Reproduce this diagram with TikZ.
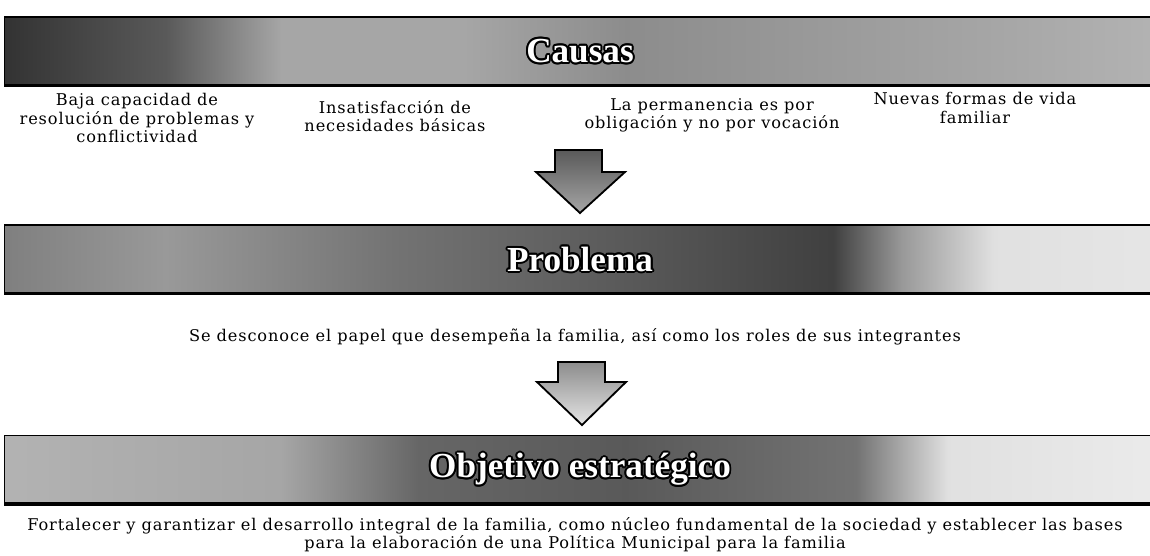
\documentclass[tikz,border=0pt]{standalone}
\usepackage{fontspec}
\setmainfont{DejaVu Serif}[LetterSpace=5.5]
\newfontfamily\titlefont{Liberation Serif}
\usepackage{tikz}
\usetikzlibrary{positioning}

% band shadings (TikZ maps the path onto 25bp--75bp)
\pgfdeclarehorizontalshading{causasShade}{100bp}{color(0bp)=(black!80); color(25bp)=(black!80); color(32bp)=(black!65); color(37bp)=(black!35); color(45bp)=(black!35); color(52bp)=(black!45); color(60bp)=(black!40); color(68bp)=(black!35); color(75bp)=(black!30); color(100bp)=(black!30)}
\pgfdeclarehorizontalshading{problemaShade}{100bp}{color(0bp)=(black!50); color(25bp)=(black!50); color(32bp)=(black!40); color(42bp)=(black!55); color(52bp)=(black!65); color(61bp)=(black!75); color(64bp)=(black!40); color(68bp)=(black!12); color(75bp)=(black!10); color(100bp)=(black!10)}
\pgfdeclarehorizontalshading{objetivoShade}{100bp}{color(0bp)=(black!30); color(25bp)=(black!30); color(37bp)=(black!35); color(43bp)=(black!60); color(52bp)=(black!65); color(62bp)=(black!55); color(66bp)=(black!12); color(75bp)=(black!8); color(100bp)=(black!8)}

\tikzset{
  band/.style={draw=black, line width=0.8pt, minimum width=28.75cm, minimum height=1.7cm, inner sep=0pt},
  bandtitle/.style={font=\titlefont\bfseries\fontsize{25}{25}\selectfont, text=white, inner sep=0pt},
  bodytext/.style={font=\fontsize{11.5}{13}\selectfont, align=center, inner sep=0pt},
  bigarrow/.style={draw=black, line width=1.3pt, line join=miter}
}

\begin{document}
\begin{tikzpicture}[x=0.025cm, y=-0.025cm]
  \useasboundingbox (0,0) rectangle (1150,555);

  % Bands
  \node[band, shading=causasShade] (causas) at (580,51) {};
  \node[band, shading=problemaShade] (problema) at (580,259) {};
  \node[band, shading=objetivoShade] (objetivo) at (580,469.5) {};
  \foreach \b in {causas, problema, objetivo}
    \draw[line width=2.5pt] (\b.south west) -- (\b.south east);

  % Titles with dark outline
  \foreach \b/\t in {causas/Causas, problema/Problema, objetivo/Objetivo estratégico} {
    \foreach \a in {0,30,...,330}
      \node[bandtitle, text=black] at ([shift={(\a:1.4pt)}]\b.center) {\t};
    \node[bandtitle] (\b-title) at (\b.center) {\t};
  }

  % Causes
  \node[bodytext] (c1) at (137,118) {Baja capacidad de\\resolución de problemas y\\conflictividad};
  \node[bodytext] (c2) at (395,116) {Insatisfacción de\\necesidades básicas};
  \node[bodytext] (c3) at (712,115) {La permanencia es por\\obligación y no por vocación};
  \node[bodytext] (c4) at (975,108) {Nuevas formas de vida\\familiar};

  % Arrows
  \draw[bigarrow, top color=black!65, bottom color=black!35] (555,150) -- (602,150) -- (602,172) -- (625,172) -- (580,213) -- (536,172) -- (555,172) -- cycle;
  \draw[bigarrow, top color=black!45, bottom color=black!10] (558,362) -- (605,362) -- (605,382) -- (626,382) -- (582,425) -- (537,382) -- (558,382) -- cycle;

  % Problem and objective
  \node[bodytext] (prob) at (575,337) {Se desconoce el papel que desempeña la familia, así como los roles de sus integrantes};
  \node[bodytext] (obj) at (575,535) {Fortalecer y garantizar el desarrollo integral de la familia, como núcleo fundamental de la sociedad y establecer las bases\\para la elaboración de una Política Municipal para la familia};
\end{tikzpicture}
\end{document}
